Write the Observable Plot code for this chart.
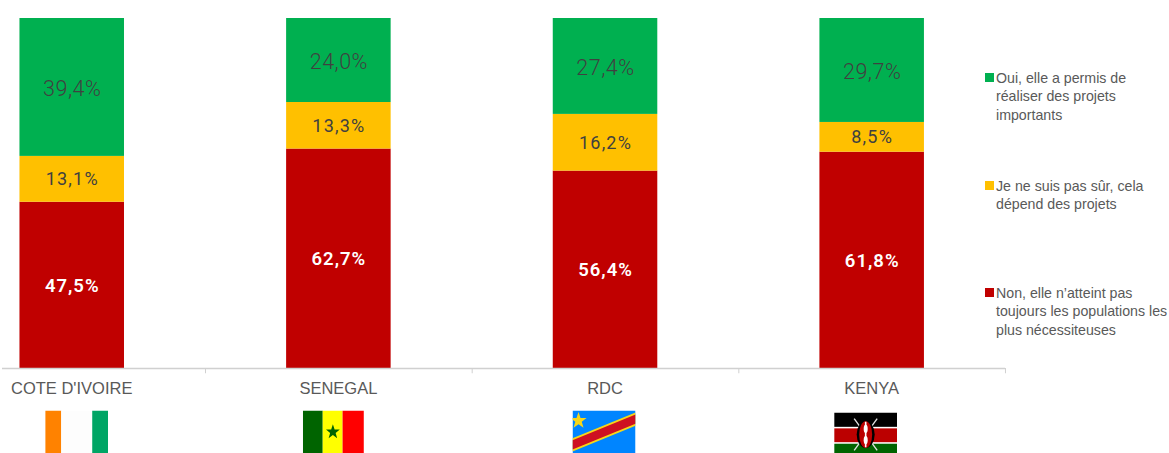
<!DOCTYPE html>
<html><head><meta charset="utf-8">
<script src="https://cdn.jsdelivr.net/npm/d3@7"></script>
<script src="https://cdn.jsdelivr.net/npm/@observablehq/plot@0.6"></script>
<style>
html,body{margin:0;padding:0;background:#fff;overflow:hidden}
#wrap{position:relative;width:1169px;height:453px}
.lg{position:absolute;left:985px;width:190px;font:14.2px/18.4px 'Liberation Sans',sans-serif;color:#595959}
.lg i{position:absolute;left:0;top:4px;width:9px;height:9px}
.lg span{display:block;padding-left:11px;white-space:nowrap}
svg g[font-size="18.5"]{letter-spacing:1px}
svg g[font-size="18"]{letter-spacing:1.2px}
svg g[font-size="21.5"]{letter-spacing:.5px}
</style></head><body><div id="wrap"></div>
<script>
const countries = ["COTE D'IVOIRE","SENEGAL","RDC","KENYA"];
const seriesNames = [
  "Non, elle n’atteint pas\ntoujours les populations les\nplus nécessiteuses",
  "Je ne suis pas sûr, cela\ndépend des projets",
  "Oui, elle a permis de\nréaliser des projets\nimportants"
];
const colors = ["#C00000","#FFC000","#00B050"];
const non = [47.5,62.7,56.4,61.8];
const pasSur = [13.1,13.3,16.2,8.5];
const oui = [39.4,24.0,27.4,29.7];
const seriesValues = [non,pasSur,oui];

const svgUri = s => "data:image/svg+xml;utf8," + encodeURIComponent(`<svg xmlns="http://www.w3.org/2000/svg" viewBox="0 0 63 42" preserveAspectRatio="none">${s}</svg>`);
const star = (cx,cy,r,fill) => {
  const p=[];for(let i=0;i<10;i++){const a=-Math.PI/2+i*Math.PI/5,q=i%2?r*0.4:r;p.push((cx+q*Math.cos(a)).toFixed(2)+","+(cy+q*Math.sin(a)).toFixed(2));}
  return `<polygon points="${p.join(" ")}" fill="${fill}"/>`;
};
const flagCI = `<rect width="16" height="42" fill="#FF8200"/><rect x="16" width="31" height="42" fill="#FDFDFD"/><rect x="47" width="16" height="42" fill="#00A565"/>`;
const flagSN = `<rect width="20.5" height="42" fill="#006400"/><rect x="20.5" width="20.5" height="42" fill="#FFFF00"/><rect x="41" width="22" height="42" fill="#FF0000"/>`+star(31,21,7.5,"#006400");
const flagCD = `<rect width="63" height="42" fill="#0085FF"/><polygon points="0,27 63,2 63,15 0,40" fill="#F7D618"/><polygon points="0,29 63,4 63,13 0,38" fill="#CE1021"/>`+star(6,10,8.5,"#F7D618");
const flagKE = `<rect width="63" height="42" fill="#fff"/><rect width="63" height="14" fill="#000"/><rect y="15.5" width="63" height="13.5" fill="#BB0000"/><rect y="30.5" width="63" height="13" fill="#006400"/>
<path d="M20 6 L43 37 M43 6 L20 37" stroke="#ddd" stroke-width="1.4"/>
<ellipse cx="31.5" cy="21.5" rx="9" ry="13" fill="#000"/><ellipse cx="31.5" cy="21.5" rx="6.5" ry="13" fill="#BB0000"/><path d="M31.5 9 V34" stroke="#fff" stroke-width="1.6"/><ellipse cx="31.5" cy="16" rx="2" ry="4" fill="#fff"/><ellipse cx="31.5" cy="27" rx="2" ry="4" fill="#fff"/>`;
const flags = [flagCI,flagSN,flagCD,flagKE];
const flagNudge = [4.5,-5.5,-1.5,-6.5];
const flagDrop = [63.5,63.5,63.5,65.5];
const flagWidth = [63,61,63,63];

const rows = seriesNames.flatMap((s,i)=>countries.map((c,j)=>{
  const below = d3.sum(seriesValues.slice(0,i),v=>v[j]);
  return {country:c,series:s,value:seriesValues[i][j],idx:i,mid:below+seriesValues[i][j]/2};
}));
const fmt = v => v.toFixed(1).replace(".",",")+"%";
const labelStyle = [
  {fill:"#FFFFFF",fontSize:18.5,fontWeight:600,fontFamily:"Roboto",dy:0.5},
  {fill:"#404040",fontSize:18,fontWeight:400,fontFamily:"Roboto",dy:0},
  {fill:"#404040",fontSize:21.5,fontWeight:300,fontFamily:"Roboto",dy:1.5}
];
const chart = Plot.plot({
  width:1169,height:453,marginLeft:2,marginRight:164,marginTop:18,marginBottom:85,
  style:{background:"#fff"},
  x:{domain:countries,range:[-61.6,1005],round:false,paddingInner:0.608,paddingOuter:0.304,label:null},
  y:{domain:[0,100],axis:null},
  color:{domain:seriesNames,range:colors},
  marks:[
    Plot.barY(rows,Plot.stackY({x:"country",y:"value",z:"series",order:seriesNames,fill:"series"})),
    ...labelStyle.map((st,i)=>Plot.text(rows.filter(r=>r.idx===i),{x:"country",y:"mid",text:d=>fmt(d.value),...st})),
    Plot.ruleY([0],{stroke:"#D0D0D0",strokeWidth:1.5}),
    Plot.ruleX(countries,{x:d=>d,y1:0,y2:-1.5,dx:133.3,stroke:"#D0D0D0",strokeWidth:1}),
    Plot.axisX({tickSize:0,tickPadding:14,fontSize:16.5,fontFamily:"'Liberation Sans'",label:null,fill:"#595959",dx:-0.5}),
    ...countries.map((c,i)=>Plot.image([c],{x:d=>d,frameAnchor:"bottom",dx:flagNudge[i],dy:flagDrop[i],width:flagWidth[i],height:43,src:()=>svgUri(flags[i]),preserveAspectRatio:"none"}))
  ]
});
const wrap=document.getElementById("wrap");
wrap.appendChild(chart);
[[seriesNames[2],colors[2],69],[seriesNames[1],colors[1],177],[seriesNames[0],colors[0],284]].forEach(([t,c,top])=>{
  const d=document.createElement("div");d.className="lg";d.style.top=top+"px";
  d.innerHTML=`<i style="background:${c}"></i>`+t.split("\n").map(l=>`<span>${l}</span>`).join("");
  wrap.appendChild(d);
});
</script></body></html>
